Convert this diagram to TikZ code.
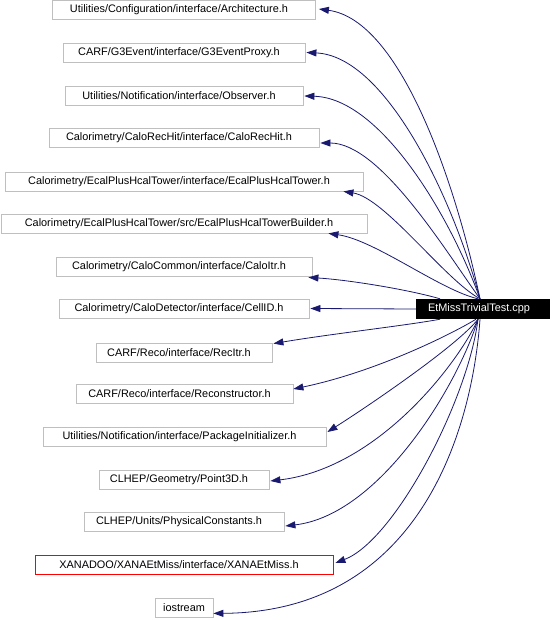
\documentclass[tikz,border=0pt]{standalone}
\usepackage{fontspec}
\setmainfont{Liberation Sans}
\usetikzlibrary{arrows.meta}
\definecolor{edgeblue}{HTML}{191970}
\definecolor{boxgray}{HTML}{BFBFBF}
\begin{document}
\begin{tikzpicture}[x=1bp,y=-1bp,
  plainbox/.style={draw=boxgray, line width=0.8bp, minimum height=19bp, inner sep=0pt,
    font=\fontsize{10.9bp}{13bp}\selectfont},
  filebox/.style={plainbox, execute at begin node={\hspace*{-10bp}}},
  redbox/.style={filebox, draw=red},
  mainbox/.style={fill=black, text=white, minimum width=134bp, minimum height=20bp,
    inner sep=0pt, font=\fontsize{10.9bp}{13bp}\selectfont,
    execute at begin node={\hspace*{-8bp}}},
  edge/.style={draw=edgeblue, line width=0.8bp, -{Triangle[length=10bp,width=7bp]}}]
\useasboundingbox (0,0) rectangle (552,620);

\node[mainbox] (m) at (483,309) {EtMissTrivialTest.cpp};

\node[filebox, minimum width=263bp] (a1) at (184,10) {Utilities/Configuration/interface/Architecture.h};
\node[filebox, minimum width=242bp] (a2) at (184,52.5) {CARF/G3Event/interface/G3EventProxy.h};
\node[filebox, minimum width=238bp] (a3) at (184,95.5) {Utilities/Notification/interface/Observer.h};
\node[filebox, minimum width=270bp] (a4) at (184,138) {Calorimetry/CaloRecHit/interface/CaloRecHit.h};
\node[filebox, minimum width=358bp] (a5) at (184,181.5) {Calorimetry/EcalPlusHcalTower/interface/EcalPlusHcalTower.h};
\node[filebox, minimum width=366bp] (a6) at (184,223.5) {Calorimetry/EcalPlusHcalTower/src/EcalPlusHcalTowerBuilder.h};
\node[filebox, minimum width=256bp] (a7) at (184,266.5) {Calorimetry/CaloCommon/interface/CaloItr.h};
\node[filebox, minimum width=250bp] (a8) at (184,308.5) {Calorimetry/CaloDetector/interface/CellID.h};
\node[filebox, minimum width=176bp] (a9) at (184,352.5) {CARF/Reco/interface/RecItr.h};
\node[filebox, minimum width=217bp] (a10) at (184.5,394) {CARF/Reco/interface/Reconstructor.h};
\node[filebox, minimum width=283bp] (a11) at (184.5,436.5) {Utilities/Notification/interface/PackageInitializer.h};
\node[filebox, minimum width=170bp] (a12) at (184,479.5) {CLHEP/Geometry/Point3D.h};
\node[filebox, minimum width=200bp] (a13) at (184,522) {CLHEP/Units/PhysicalConstants.h};
\node[redbox, minimum width=298bp] (a14) at (184,564.5) {XANADOO/XANAEtMiss/interface/XANAEtMiss.h};
\node[plainbox, minimum width=58bp] (a15) at (184,607.5) {iostream};

% upper edges
\draw[edge] ([xshift=-3bp]m.north) .. controls (455,180) and (400,20) .. ([xshift=3bp,yshift=1bp]a1.east);
\draw[edge] ([xshift=-3bp]m.north) .. controls (452,195) and (385,56) .. ([xshift=1bp]a2.east);
\draw[edge] ([xshift=-3bp]m.north) .. controls (450,215) and (380,98) .. ([xshift=1bp,yshift=-0.5bp]a3.east);
\draw[edge] ([xshift=-3bp]m.north) .. controls (445,250) and (380,143) .. ([xshift=1bp,yshift=-5bp]a4.east);
\draw[edge] ([xshift=-3bp]m.north) .. controls (445,280) and (385,198) .. ([xshift=-20bp]a5.south east);
\draw[edge] ([xshift=-5bp]m.north) .. controls (440,290) and (375,240) .. ([xshift=-39bp]a6.south east);
\draw[edge] ([xshift=-43bp]m.north) .. controls (410,290) and (350,280) .. ([xshift=-4bp,yshift=-1bp]a7.south east);
\draw[edge] (m.west) -- ([xshift=1bp]a8.east);
% lower edges
\draw[edge] ([xshift=-43bp]m.south) .. controls (410,325) and (330,334) .. ([xshift=1bp,yshift=-1bp]a9.north east);
\draw[edge] ([xshift=-7bp]m.south) .. controls (450,335) and (375,372) .. ([yshift=5bp]a10.east);
\draw[edge] ([xshift=-5bp]m.south) .. controls (458,345) and (370,405) .. ([xshift=1bp,yshift=4.5bp]a11.east);
\draw[edge] ([xshift=-5bp]m.south) .. controls (460,360) and (380,468) .. ([xshift=1bp,yshift=-1.5bp]a12.east);
\draw[edge] ([xshift=-5bp]m.south) .. controls (458,385) and (380,515) .. ([xshift=1bp,yshift=-4bp]a13.east);
\draw[edge] ([xshift=-5bp]m.south) .. controls (468,400) and (395,540) .. ([xshift=2bp,yshift=1.5bp]a14.east);
\draw[edge] ([xshift=-3bp]m.south) .. controls (472,430) and (420,612) .. ([yshift=4bp]a15.south east);
\end{tikzpicture}
\end{document}
